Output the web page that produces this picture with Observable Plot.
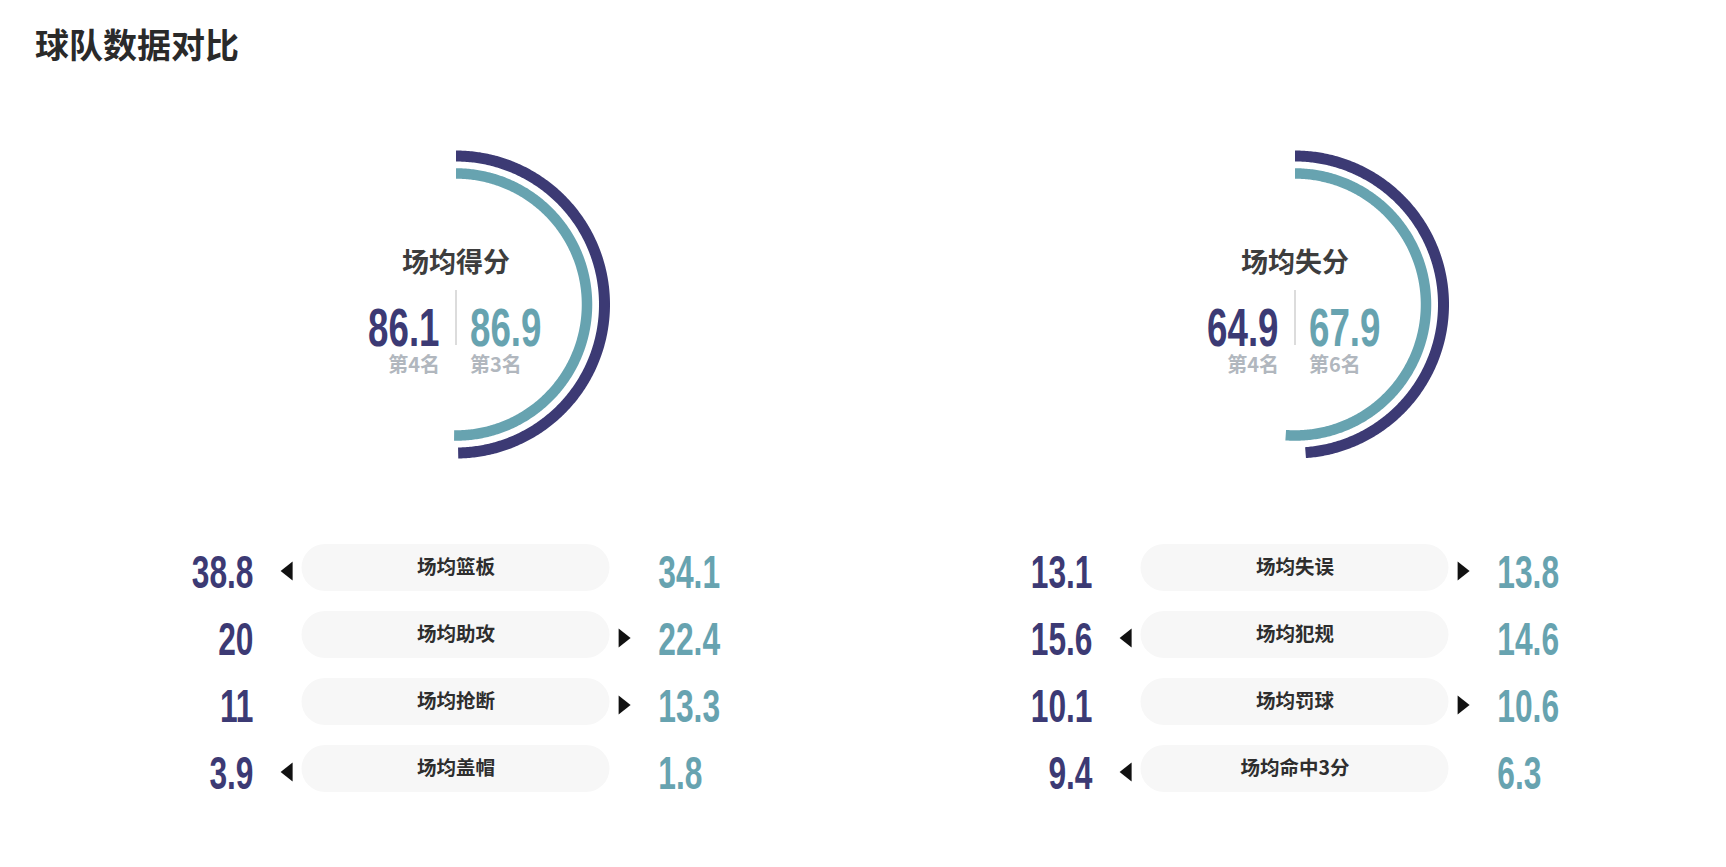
<!DOCTYPE html>
<html><head><meta charset="utf-8">
<script src="https://cdn.jsdelivr.net/npm/d3@7"></script>
<script src="https://cdn.jsdelivr.net/npm/@observablehq/plot@0.6"></script>
<style>
html,body{margin:0;padding:0;background:#fff;overflow:hidden;}
#title{height:100px;box-sizing:border-box;padding:19px 0 0 35px;font:700 34px "Noto Sans CJK SC",sans-serif;color:#2a2a2a;line-height:normal;}
svg{display:block}
</style></head><body>
<div id="title">球队数据对比</div>
<div id="gauges"></div>
<div id="rows"></div>
<script>
// ---- data ----
const teams = ["主队", "客队"];
const gaugeMetrics = ["场均得分", "场均失分"];
const gaugeTeamA = [86.1, 64.9];
const gaugeTeamB = [86.9, 67.9];
const gaugeRankA = ["第4名", "第4名"];
const gaugeRankB = ["第3名", "第6名"];
const rowMetricsLeft = ["场均篮板", "场均助攻", "场均抢断", "场均盖帽"];
const rowTeamALeft = [38.8, 20, 11, 3.9];
const rowTeamBLeft = [34.1, 22.4, 13.3, 1.8];
const rowMetricsRight = ["场均失误", "场均犯规", "场均罚球", "场均命中3分"];
const rowTeamARight = [13.1, 15.6, 10.1, 9.4];
const rowTeamBRight = [13.8, 14.6, 10.6, 6.3];

// ---- style / layout ----
const W = 1726;
const DARK = "#3c3a74", TEAL = "#67a3b0";
const CJK = "Noto Sans CJK SC, sans-serif";
const NUM = "Liberation Sans, Arial, sans-serif";
const section = d3.scaleBand([0, 1], [36, 1714]);
const center = s => section(s) + section.bandwidth() / 2;
const HA = 433, CY = 204, HB = 270;
const arcR = [148.5, 131], arcW = [11, 10.5];

// ---- gauge plot ----
const gaugeTable = gaugeMetrics.map((m, g) => ({
  s: g, metric: m, a: gaugeTeamA[g], b: gaugeTeamB[g], ra: gaugeRankA[g], rb: gaugeRankB[g]
}));
const arcPts = [[], []];
gaugeTable.forEach(d => {
  const total = d.a + d.b;
  [d.a, d.b].forEach((v, t) => {
    const end = 2 * Math.PI * v / total, n = 300;
    for (let i = 0; i <= n; i++) arcPts[t].push({s: d.s, team: teams[t], angle: end * i / n, r: arcR[t]});
  });
});
const ax = d => center(d.s) + d.r * Math.sin(d.angle);
const ay = d => CY - d.r * Math.cos(d.angle);

const gauges = Plot.plot({
  width: W, height: HA, margin: 0,
  x: {domain: [0, W], range: [0, W], axis: null},
  y: {domain: [0, HA], range: [0, HA], axis: null},
  style: {background: "white"},
  marks: [
    Plot.line(arcPts[0], {x: ax, y: ay, z: "s", stroke: DARK, strokeWidth: arcW[0], strokeLinecap: "butt", strokeLinejoin: "round"}),
    Plot.line(arcPts[1], {x: ax, y: ay, z: "s", stroke: TEAL, strokeWidth: arcW[1], strokeLinecap: "butt", strokeLinejoin: "round"}),
    Plot.text(gaugeTable, {x: d => center(d.s), y: CY - 41.5, text: "metric", fontSize: 27, fontWeight: 700, fill: "#3d3d3d", fontFamily: CJK}),
    Plot.ruleX(gaugeTable, {x: d => center(d.s), y1: CY - 14, y2: CY + 41, stroke: "#dcdcdc", strokeWidth: 2}),
    Plot.text(gaugeTable, {x: d => center(d.s), y: CY + 24, dx: -16.5, text: d => String(d.a), textAnchor: "end", fontSize: 54, fontWeight: 700, fill: DARK, fontFamily: NUM}),
    Plot.text(gaugeTable, {x: d => center(d.s), y: CY + 24, dx: 14, text: d => String(d.b), textAnchor: "start", fontSize: 54, fontWeight: 700, fill: TEAL, fontFamily: NUM}),
    Plot.text(gaugeTable, {x: d => center(d.s), y: CY + 61, dx: -16, text: "ra", textAnchor: "end", fontSize: 20, fontWeight: 700, fill: "#b1b7be", fontFamily: CJK}),
    Plot.text(gaugeTable, {x: d => center(d.s), y: CY + 61, dx: 14, text: "rb", textAnchor: "start", fontSize: 20, fontWeight: 700, fill: "#b1b7be", fontFamily: CJK})
  ]
});

// ---- comparison rows plot ----
const rows = [];
[[rowMetricsLeft, rowTeamALeft, rowTeamBLeft], [rowMetricsRight, rowTeamARight, rowTeamBRight]].forEach(([labels, A, B], s) => {
  labels.forEach((label, k) => rows.push({s, row: k, label, a: A[k], b: B[k]}));
});
const AH = 9.5, AW = 6;
const arrowLeft = {draw(ctx) { ctx.moveTo(-AW, 0); ctx.lineTo(AW, -AH); ctx.lineTo(AW, AH); ctx.closePath(); }};
const arrowRight = {draw(ctx) { ctx.moveTo(AW, 0); ctx.lineTo(-AW, -AH); ctx.lineTo(-AW, AH); ctx.closePath(); }};

const rowPlot = Plot.plot({
  width: W, height: HB, margin: 0,
  x: {domain: [0, W], range: [0, W], axis: null},
  y: {type: "band", domain: [0, 1, 2, 3], padding: 0, axis: null},
  style: {background: "white"},
  marks: [
    Plot.barX(rows, {x1: d => center(d.s) - 154, x2: d => center(d.s) + 154, y: "row", fill: "#f7f7f7", rx: 23.5, insetTop: 10, insetBottom: 10}),
    Plot.text(rows, {x: d => center(d.s), y: "row", dy: 0, text: "label", fontSize: 19.5, fontWeight: 700, fill: "#2e2e2e", fontFamily: CJK}),
    Plot.dot(rows.filter(d => d.a > d.b), {x: d => center(d.s) - 169.4, y: "row", dy: 3, r: 9, symbol: arrowLeft, fill: "#111", stroke: "none"}),
    Plot.dot(rows.filter(d => d.a < d.b), {x: d => center(d.s) + 168.6, y: "row", dy: 3, r: 9, symbol: arrowRight, fill: "#111", stroke: "none"}),
    Plot.text(rows, {x: d => center(d.s), y: "row", dx: -202.5, dy: 5, text: d => String(d.a), textAnchor: "end", fontSize: 46, fontWeight: 700, fill: DARK, fontFamily: NUM}),
    Plot.text(rows, {x: d => center(d.s), y: "row", dx: 202.3, dy: 5, text: d => String(d.b), textAnchor: "start", fontSize: 46, fontWeight: 700, fill: TEAL, fontFamily: NUM})
  ]
});

// horizontally condense the numeric labels (the original uses a condensed face)
function condense(svg, k) {
  svg.querySelectorAll('g[font-family^="Liberation"] text').forEach(t => {
    const x = parseFloat(t.getAttribute("x"));
    const tr = t.getAttribute("transform") || "";
    if (isFinite(x) && x !== 0) {
      t.removeAttribute("x");
      t.setAttribute("transform", `${tr} translate(${x},0) scale(${k},1)`);
    } else {
      t.setAttribute("transform", `${tr} scale(${k},1)`);
    }
  });
}
condense(gauges, 0.68);
condense(rowPlot, 0.69);
document.getElementById("gauges").append(gauges);
document.getElementById("rows").append(rowPlot);
</script>
</body></html>
